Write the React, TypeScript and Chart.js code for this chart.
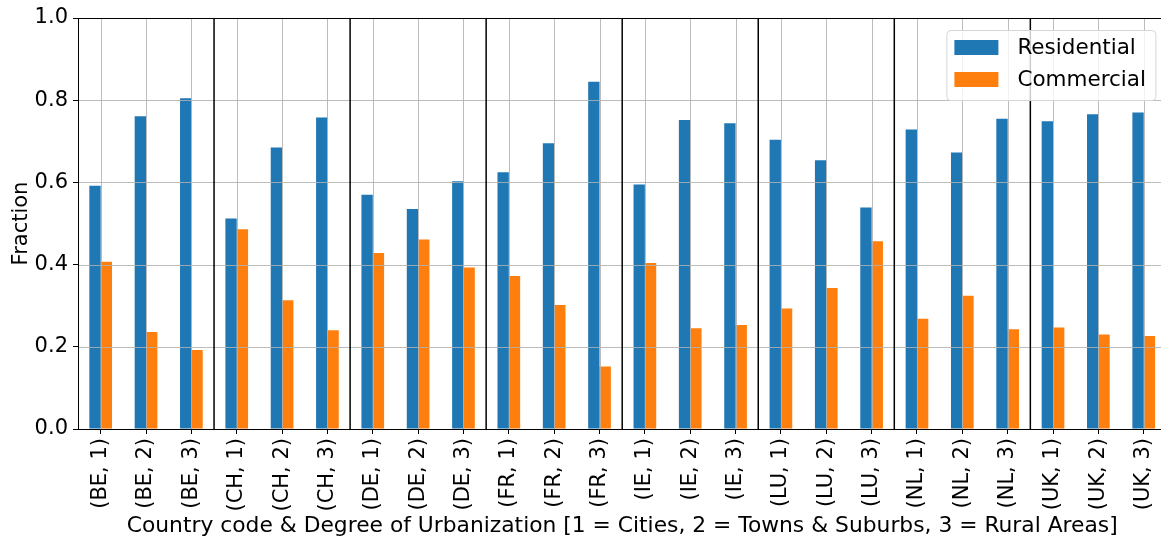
import React, { useEffect, useRef } from "react";
import { Chart, registerables } from "chart.js";

Chart.register(...registerables);

const categories = [
  "(BE, 1)", "(BE, 2)", "(BE, 3)",
  "(CH, 1)", "(CH, 2)", "(CH, 3)",
  "(DE, 1)", "(DE, 2)", "(DE, 3)",
  "(FR, 1)", "(FR, 2)", "(FR, 3)",
  "(IE, 1)", "(IE, 2)", "(IE, 3)",
  "(LU, 1)", "(LU, 2)", "(LU, 3)",
  "(NL, 1)", "(NL, 2)", "(NL, 3)",
  "(UK, 1)", "(UK, 2)", "(UK, 3)",
];

const residential = [
  0.592, 0.761, 0.805,
  0.512, 0.685, 0.758,
  0.570, 0.535, 0.603,
  0.625, 0.695, 0.845,
  0.595, 0.752, 0.744,
  0.704, 0.654, 0.539,
  0.729, 0.673, 0.755,
  0.749, 0.766, 0.770,
];

const commercial = [
  0.407, 0.236, 0.192,
  0.486, 0.313, 0.240,
  0.428, 0.461, 0.393,
  0.372, 0.302, 0.152,
  0.404, 0.245, 0.253,
  0.293, 0.343, 0.457,
  0.268, 0.324, 0.243,
  0.247, 0.230, 0.226,
];

const yTicks = [0, 0.2, 0.4, 0.6, 0.8, 1.0];
const groupSize = 3;

const FONT = "'DejaVu Sans', sans-serif";
const BLUE = "#1f77b4";
const ORANGE = "#ff7f0e";

const overlayPlugin = {
  id: "overlay",
  afterDatasetsDraw(chart: any) {
    const { ctx, chartArea } = chart;
    const x = chart.scales.x;
    const y = chart.scales.y;
    ctx.save();
    // gridlines above bars
    ctx.strokeStyle = "rgba(176,176,176,0.85)";
    ctx.lineWidth = 1;
    yTicks.forEach((v) => {
      const py = Math.round(y.getPixelForValue(v)) + 0.5;
      ctx.beginPath();
      ctx.moveTo(chartArea.left, py);
      ctx.lineTo(chartArea.right, py);
      ctx.stroke();
    });
    categories.forEach((_, i) => {
      const px = Math.round(x.getPixelForValue(i)) + 0.5;
      ctx.beginPath();
      ctx.moveTo(px, chartArea.top);
      ctx.lineTo(px, chartArea.bottom);
      ctx.stroke();
    });
    // group separators
    ctx.strokeStyle = "#000";
    ctx.lineWidth = 1.5;
    for (let i = groupSize - 1; i < categories.length - 1; i += groupSize) {
      const px = (x.getPixelForValue(i) + x.getPixelForValue(i + 1)) / 2;
      ctx.beginPath();
      ctx.moveTo(px, chartArea.top);
      ctx.lineTo(px, chartArea.bottom);
      ctx.stroke();
    }
    // frame
    ctx.strokeStyle = "#000";
    ctx.lineWidth = 1;
    ctx.strokeRect(
      Math.round(chartArea.left) + 0.5,
      Math.round(chartArea.top) + 0.5,
      Math.round(chartArea.right - chartArea.left),
      Math.round(chartArea.bottom - chartArea.top)
    );
    ctx.restore();
  },
  afterDraw(chart: any) {
    const { ctx, chartArea } = chart;
    ctx.save();
    const w = 209;
    const h = 70;
    const bx = chartArea.right - 11 - w;
    const by = chartArea.top + 12;
    ctx.beginPath();
    (ctx as any).roundRect(bx + 0.5, by + 0.5, w, h, 4);
    ctx.fillStyle = "rgba(255,255,255,0.8)";
    ctx.fill();
    ctx.strokeStyle = "#d6d6d6";
    ctx.lineWidth = 1;
    ctx.stroke();
    ctx.font = `21.5px ${FONT}`;
    ctx.textBaseline = "middle";
    ctx.textAlign = "left";
    chart.data.datasets.forEach((ds: any, i: number) => {
      const py = by + 10 + i * 32;
      ctx.fillStyle = ds.backgroundColor;
      ctx.fillRect(bx + 8, py, 44, 15);
      ctx.fillStyle = "#000";
      ctx.fillText(ds.label, bx + 71, py + 8);
    });
    ctx.restore();
  },
};

export default function App() {
  const ref = useRef<HTMLCanvasElement>(null);
  useEffect(() => {
    document.body.style.margin = "0";
    const chart = new Chart(ref.current as HTMLCanvasElement, {
      type: "bar",
      data: {
        labels: categories,
        datasets: [
          { label: "Residential", data: residential, backgroundColor: BLUE },
          { label: "Commercial", data: commercial, backgroundColor: ORANGE },
        ],
      },
      plugins: [overlayPlugin],
      options: {
        animation: false,
        responsive: false,
        devicePixelRatio: 1,
        layout: { padding: { top: 18, right: 4, left: 0, bottom: 0 } },
        datasets: { bar: { categoryPercentage: 0.5, barPercentage: 1.0 } },
        plugins: { legend: { display: false }, tooltip: { enabled: false } },
        scales: {
          x: {
            grid: { drawOnChartArea: false, drawTicks: true, tickLength: 5, tickColor: "#000", offset: false },
            border: { display: true, color: "#000", width: 1 },
            ticks: {
              color: "#000",
              font: { family: FONT, size: 21 },
              minRotation: 90,
              maxRotation: 90,
              autoSkip: false,
              padding: 4,
            },
            title: {
              display: true,
              text: "Country code & Degree of Urbanization [1 = Cities, 2 = Towns & Suburbs, 3 = Rural Areas]",
              color: "#000",
              font: { family: FONT, size: 21.8 },
              padding: { top: 4, bottom: 4 },
            },
            afterFit: (s: any) => {
              s.height = 114;
            },
          },
          y: {
            min: 0,
            max: 1,
            grid: { drawOnChartArea: false, drawTicks: true, tickLength: 5, tickColor: "#000" },
            border: { display: true, color: "#000", width: 1 },
            ticks: {
              color: "#000",
              font: { family: FONT, size: 21 },
              stepSize: 0.2,
              padding: 5,
              callback: (v: any) => Number(v).toFixed(1),
            },
            title: {
              display: true,
              text: "Fraction",
              color: "#000",
              font: { family: FONT, size: 21 },
              padding: { top: 9, bottom: 0 },
            },
            afterFit: (s: any) => {
              s.width = 78;
            },
          },
        },
      } as any,
    });
    return () => chart.destroy();
  }, []);
  return (
    <div style={{ width: 1161, height: 543, overflow: "hidden" }}>
      <canvas ref={ref} width={1173} height={543} style={{ display: "block" }} />
    </div>
  );
}
